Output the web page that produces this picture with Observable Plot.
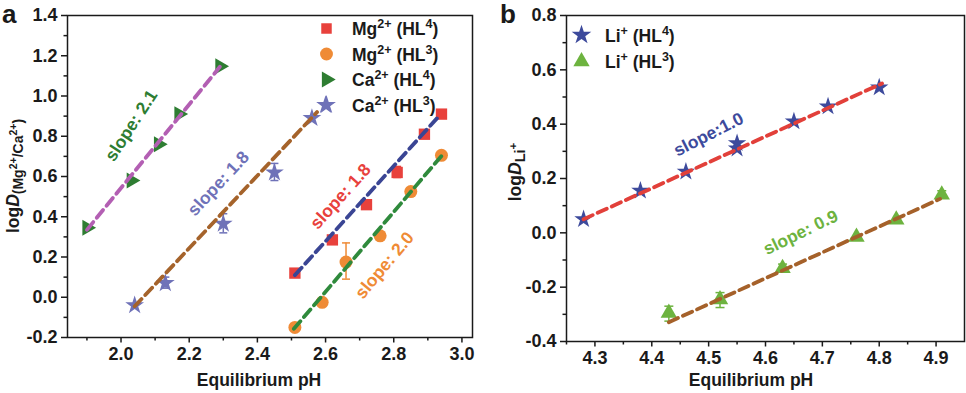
<!DOCTYPE html>
<html>
<head>
<meta charset="utf-8">
<script src="https://cdn.jsdelivr.net/npm/d3@7"></script>
<script src="https://cdn.jsdelivr.net/npm/@observablehq/plot@0.6"></script>
<style>
  html, body { margin: 0; padding: 0; background: #fff; }
  #wrap { position: relative; width: 966px; height: 393px; overflow: hidden; font-family: "Liberation Sans", Arial, sans-serif; }
  #wrap svg { position: absolute; top: 0; overflow: visible; }
</style>
</head>
<body>
<div id="wrap"></div>
<script>
// ---------- Panel a data ----------
const mgHL4X = [2.51, 2.62, 2.72, 2.81, 2.89, 2.94];
const mgHL4Y = [0.12, 0.285, 0.46, 0.62, 0.81, 0.91];
const mgHL3X = [2.51, 2.59, 2.66, 2.76, 2.85, 2.94];
const mgHL3Y = [-0.15, -0.025, 0.175, 0.305, 0.525, 0.705];
const caHL4X = [1.90, 2.03, 2.11, 2.17, 2.29];
const caHL4Y = [0.345, 0.58, 0.76, 0.91, 1.148];
const caHL3X = [2.04, 2.13, 2.30, 2.45, 2.56, 2.60];
const caHL3Y = [-0.04, 0.07, 0.365, 0.62, 0.89, 0.955];

// error bars (x, low, high)
const errAX = [2.13, 2.30, 2.45, 2.66, 2.81, 2.51, 2.62, 2.72];
const errALo = [0.045, 0.32, 0.58, 0.09, 0.595, 0.105, 0.27, 0.445];
const errAHi = [0.10, 0.415, 0.665, 0.27, 0.65, 0.135, 0.30, 0.475];

// fit lines (endpoints)
const fitCaHL4X = [1.90, 2.29], fitCaHL4Y = [0.335, 1.145];
const fitCaHL3X = [2.04, 2.575], fitCaHL3Y = [-0.045, 0.92];
const fitMgHL4X = [2.51, 2.93], fitMgHL4Y = [0.11, 0.895];
const fitMgHL3X = [2.507, 2.946], fitMgHL3Y = [-0.157, 0.714];

// slope annotations
const slopeAText = ["slope: 2.1", "slope: 1.8", "slope: 1.8", "slope: 2.0"];
const slopeAX = [2.03, 2.286, 2.644, 2.773];
const slopeAY = [0.853, 0.565, 0.501, 0.158];

// ticks
const aXTicks = [2.0, 2.2, 2.4, 2.6, 2.8, 3.0];
const aXMinor = [1.9, 2.1, 2.3, 2.5, 2.7, 2.9];
const aYTicks = [-0.2, 0, 0.2, 0.4, 0.6, 0.8, 1.0, 1.2, 1.4];
const aYMinor = [-0.1, 0.1, 0.3, 0.5, 0.7, 0.9, 1.1, 1.3];

// ---------- Panel b data ----------
const liHL4X = [4.28, 4.38, 4.46, 4.55, 4.55, 4.65, 4.71, 4.80];
const liHL4Y = [0.05, 0.155, 0.225, 0.31, 0.33, 0.41, 0.465, 0.535];
const liHL3X = [4.43, 4.52, 4.63, 4.76, 4.83, 4.91];
const liHL3Y = [-0.295, -0.245, -0.13, -0.015, 0.048, 0.14];

const errBX = [4.43, 4.52, 4.63, 4.91];
const errBLo = [-0.325, -0.275, -0.14, 0.13];
const errBHi = [-0.27, -0.22, -0.115, 0.155];

const fitLi4X = [4.28, 4.805], fitLi4Y = [0.05, 0.55];
const fitLi3X = [4.43, 4.907], fitLi3Y = [-0.329, 0.125];

const slopeBText = ["slope:1.0", "slope: 0.9"];
const slopeBX = [4.50, 4.662];
const slopeBY = [0.362, 0.001];

const bXTicks = [4.3, 4.4, 4.5, 4.6, 4.7, 4.8, 4.9];
const bXMinor = [4.25, 4.35, 4.45, 4.55, 4.65, 4.75, 4.85];
const bYTicks = [-0.4, -0.2, 0, 0.2, 0.4, 0.6, 0.8];
const bYMinor = [-0.3, -0.1, 0.1, 0.3, 0.5, 0.7];

// ---------- helpers ----------
const pts = (xs, ys) => xs.map((x, i) => ({x, y: ys[i]}));
const errs = (xs, lo, hi) => xs.map((x, i) => ({x, lo: lo[i], hi: hi[i]}));
const capSymbol = {
  draw(context, size) {
    const w = Math.sqrt(size / Math.PI);
    context.moveTo(-w, 0);
    context.lineTo(w, 0);
  }
};
const fmt = d => d.toFixed(1);
const FONT = '"Liberation Sans", Arial, sans-serif';
const dash = {strokeWidth: 3.8, strokeDasharray: "10,5.5"};

function axes(xt, xm, yt, ym) {
  return [
    Plot.axisX({ticks: xt, tickSize: 5.5, tickPadding: 4, tickFormat: fmt, label: null, strokeWidth: 1.5}),
    Plot.axisX({ticks: xm, tickSize: 3.5, tickFormat: () => "", label: null, strokeWidth: 1.5}),
    Plot.axisY({ticks: yt, tickSize: 6, tickPadding: 4, tickFormat: fmt, label: null, strokeWidth: 1.5}),
    Plot.axisY({ticks: ym, tickSize: 3.5, tickFormat: () => "", label: null, strokeWidth: 1.5}),
    Plot.frame({stroke: "#1a1a1a", strokeWidth: 1.5})
  ];
}
function errorBars(data, color, capR) {
  return [
    Plot.ruleX(data, {x: "x", y1: "lo", y2: "hi", stroke: color, strokeWidth: 1.5}),
    Plot.dot(data, {x: "x", y: "lo", symbol: capSymbol, r: capR, stroke: color, strokeWidth: 1.5}),
    Plot.dot(data, {x: "x", y: "hi", symbol: capSymbol, r: capR, stroke: color, strokeWidth: 1.5})
  ];
}

const style = {fontFamily: FONT, fontSize: "18px", fontWeight: "bold", color: "#1a1a1a", background: "transparent"};

// ---------- Panel a ----------
const C = {
  mg4: "#e8413c", mg3: "#ef8b36", ca4: "#2e7d32", ca3: "#6f72b8",
  fCa4: "#b35fb3", fCa3: "#a5632b", fMg4: "#3a4594", fMg3: "#2f8a3c"
};
const errA = errs(errAX, errALo, errAHi);
const plotA = Plot.plot({
  width: 480, height: 393,
  marginLeft: 67, marginRight: 8, marginTop: 15, marginBottom: 56,
  x: {domain: [1.843, 3.031]},
  y: {domain: [-0.2, 1.4]},
  style,
  marks: [
    ...axes(aXTicks, aXMinor, aYTicks, aYMinor),
    ...errorBars(errA.slice(0, 3), C.ca3, 4),
    ...errorBars(errA.slice(3, 4), C.mg3, 4),
    ...errorBars(errA.slice(4), C.mg4, 4),
    Plot.dot(pts(mgHL4X, mgHL4Y), {x: "x", y: "y", symbol: "square", r: 6.4, fill: C.mg4}),
    Plot.dot(pts(mgHL3X, mgHL3Y), {x: "x", y: "y", symbol: "circle", r: 6.5, fill: C.mg3}),
    Plot.dot(pts(caHL4X, caHL4Y), {x: "x", y: "y", symbol: "triangle", r: 5.9, rotate: 90, fill: C.ca4}),
    Plot.dot(pts(caHL3X, caHL3Y), {x: "x", y: "y", symbol: "star", r: 5.9, fill: C.ca3}),
    Plot.line(pts(fitCaHL4X, fitCaHL4Y), {x: "x", y: "y", stroke: C.fCa4, ...dash}),
    Plot.line(pts(fitCaHL3X, fitCaHL3Y), {x: "x", y: "y", stroke: C.fCa3, ...dash}),
    Plot.line(pts(fitMgHL4X, fitMgHL4Y), {x: "x", y: "y", stroke: C.fMg4, ...dash}),
    Plot.line(pts(fitMgHL3X, fitMgHL3Y), {x: "x", y: "y", stroke: C.fMg3, ...dash}),
    Plot.text(slopeAText.map((t, i) => ({t, x: slopeAX[i], y: slopeAY[i]})), {
      x: "x", y: "y", text: "t",
      fill: (d, i) => [C.ca4, C.ca3, C.mg4, C.mg3][i],
      rotate: (d, i) => [-57, -47, -48, -50][i],
      fontSize: 17.5, fontWeight: "bold"
    })
  ]
});
plotA.style.left = "0px";

// ---------- Panel b ----------
const D = {li4: "#3d4a9c", li3: "#6db33f", fLi4: "#e2403a", fLi3: "#a5612a"};
const errB = errs(errBX, errBLo, errBHi);
const plotB = Plot.plot({
  width: 483, height: 393,
  marginLeft: 83, marginRight: 2, marginTop: 15, marginBottom: 52,
  x: {domain: [4.25, 4.95]},
  y: {domain: [-0.4, 0.8]},
  style,
  marks: [
    ...axes(bXTicks, bXMinor, bYTicks, bYMinor),
    ...errorBars(errB, D.li3, 4.5),
    Plot.dot(pts(liHL4X, liHL4Y), {x: "x", y: "y", symbol: "star", r: 5.8, fill: D.li4}),
    Plot.dot(pts(liHL3X, liHL3Y), {x: "x", y: "y", symbol: "triangle", r: 6.1, fill: D.li3}),
    Plot.line(pts(fitLi4X, fitLi4Y), {x: "x", y: "y", stroke: D.fLi4, ...dash}),
    Plot.line(pts(fitLi3X, fitLi3Y), {x: "x", y: "y", stroke: D.fLi3, ...dash}),
    Plot.text(slopeBText.map((t, i) => ({t, x: slopeBX[i], y: slopeBY[i]})), {
      x: "x", y: "y", text: "t",
      fill: (d, i) => [D.li4, D.li3][i],
      rotate: (d, i) => [-27, -26][i],
      fontSize: 17.5, fontWeight: "bold"
    })
  ]
});
plotB.style.left = "483px";

const wrap = document.getElementById("wrap");
wrap.appendChild(plotA);
wrap.appendChild(plotB);

// ---------- rich text (axis titles, legends, panel letters) ----------
function rich(svg, x, y, parts, opts = {}) {
  const t = d3.select(svg).append("text")
    .attr("x", x).attr("y", y)
    .attr("font-family", FONT).attr("font-weight", "bold")
    .attr("font-size", opts.size || 17)
    .attr("fill", "#1a1a1a")
    .attr("text-anchor", opts.anchor || "start");
  if (opts.rotate) t.attr("transform", `rotate(${opts.rotate},${x},${y})`);
  for (const p of parts) {
    const s = t.append("tspan").text(p.t);
    if (p.size) s.attr("font-size", p.size);
    if (p.dy) s.attr("dy", p.dy);
    if (p.italic) s.attr("font-style", "italic");
  }
  return t;
}

// panel letters
rich(plotA, 2, 23, [{t: "a"}], {size: 26});
rich(plotB, 17, 23, [{t: "b"}], {size: 26});

// x titles
rich(plotA, 259, 386, [{t: "Equilibrium pH"}], {anchor: "middle", size: 17.5});
rich(plotB, 268, 386, [{t: "Equilibrium pH"}], {anchor: "middle", size: 17.5});

// y titles
rich(plotA, 19, 176, [
  {t: "log"}, {t: "D", italic: true},
  {t: "(Mg", size: 14, dy: 4}, {t: "2+", size: 10.5, dy: -6.5},
  {t: "/Ca", size: 14, dy: 6.5}, {t: "2+", size: 10.5, dy: -6.5},
  {t: ")", size: 14, dy: 6.5}
], {anchor: "middle", rotate: -90, size: 17.5});
rich(plotB, 38, 172, [
  {t: "log"}, {t: "D", italic: true},
  {t: "Li", size: 14.5, dy: 4}, {t: "+", size: 11.5, dy: -8}
], {anchor: "middle", rotate: -90, size: 17.5});

// legends
function legendSymbol(svg, x, y, type, size, color, rot = 0) {
  d3.select(svg).append("path")
    .attr("d", d3.symbol().type(type).size(size)())
    .attr("transform", `translate(${x},${y}) rotate(${rot})`)
    .attr("fill", color);
}
const legA = [
  {sym: d3.symbolSquare, size: 110, c: C.mg4, ion: "Mg", ch: "2+", n: "4", rot: 0},
  {sym: d3.symbolCircle, size: 130, c: C.mg3, ion: "Mg", ch: "2+", n: "3", rot: 0},
  {sym: d3.symbolTriangle, size: 110, c: C.ca4, ion: "Ca", ch: "2+", n: "4", rot: 90},
  {sym: d3.symbolStar, size: 110, c: C.ca3, ion: "Ca", ch: "2+", n: "3", rot: 0}
];
legA.forEach((e, i) => {
  const y = 28.5 + i * 25.5;
  legendSymbol(plotA, 326.5, y, e.sym, e.size, e.c, e.rot);
  rich(plotA, 352, y + 6.5, [
    {t: e.ion}, {t: e.ch, size: 12.5, dy: -7}, {t: " (HL", dy: 7}, {t: e.n, size: 12.5, dy: -7}, {t: ")", dy: 7}
  ], {size: 17.5});
});
const legB = [
  {sym: d3.symbolStar, size: 120, c: D.li4, n: "4"},
  {sym: d3.symbolTriangle, size: 115, c: D.li3, n: "3"}
];
legB.forEach((e, i) => {
  const y = 35 + i * 26.5;
  legendSymbol(plotB, 98.5, y, e.sym, e.size, e.c);
  rich(plotB, 122, y + 6.5, [
    {t: "Li"}, {t: "+", size: 12.5, dy: -7}, {t: " (HL", dy: 7}, {t: e.n, size: 12.5, dy: -7}, {t: ")", dy: 7}
  ], {size: 17.5});
});
</script>
</body>
</html>
